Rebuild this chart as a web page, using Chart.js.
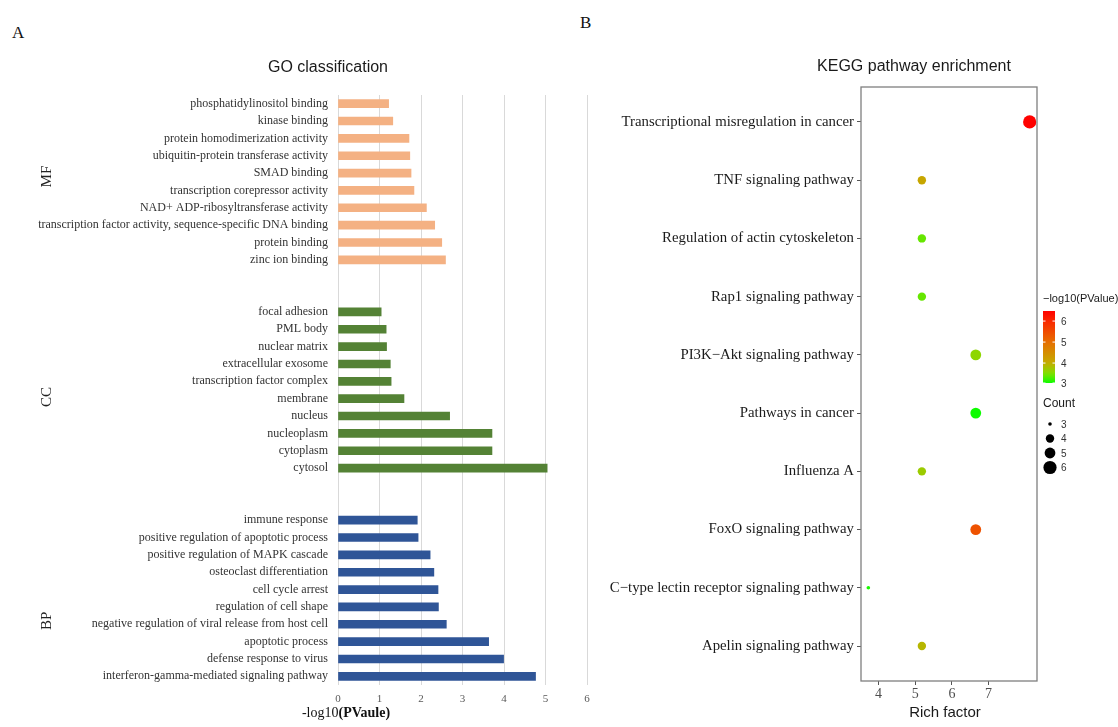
<!DOCTYPE html>
<html>
<head>
<meta charset="utf-8">
<script src="https://cdn.jsdelivr.net/npm/chart.js@4.4.1/dist/chart.umd.min.js"></script>
<style>
  body { margin: 0; background: #fff; width: 1118px; height: 727px; position: relative; overflow: hidden; }
  #goWrap { position: absolute; left: 0; top: 0; width: 600px; height: 727px; }
  #keggWrap { position: absolute; left: 590px; top: 0; width: 528px; height: 727px; }
  .panel { position: absolute; font-family: "Liberation Serif"; font-size: 17px; color: #111; }
</style>
</head>
<body>
<div class="panel" style="left:12px;top:23px">A</div>
<div class="panel" style="left:580px;top:13px">B</div>
<div id="goWrap"><canvas id="go"></canvas></div>
<div id="keggWrap"><canvas id="kegg"></canvas></div>
<script>
// ---- GO classification (-log10 PValue) ----
const mfTerms = ['phosphatidylinositol binding', 'kinase binding', 'protein homodimerization activity',
  'ubiquitin-protein transferase activity', 'SMAD binding', 'transcription corepressor activity',
  'NAD+ ADP-ribosyltransferase activity', 'transcription factor activity, sequence-specific DNA binding',
  'protein binding', 'zinc ion binding'];
const mfValues = [1.22, 1.32, 1.71, 1.73, 1.76, 1.83, 2.13, 2.33, 2.50, 2.59];

const ccTerms = ['focal adhesion', 'PML body', 'nuclear matrix', 'extracellular exosome',
  'transcription factor complex', 'membrane', 'nucleus', 'nucleoplasm', 'cytoplasm', 'cytosol'];
const ccValues = [1.04, 1.16, 1.17, 1.26, 1.28, 1.59, 2.69, 3.71, 3.71, 5.04];

const bpTerms = ['immune response', 'positive regulation of apoptotic process',
  'positive regulation of MAPK cascade', 'osteoclast differentiation', 'cell cycle arrest',
  'regulation of cell shape', 'negative regulation of viral release from host cell',
  'apoptotic process', 'defense response to virus', 'interferon-gamma-mediated signaling pathway'];
const bpValues = [1.91, 1.93, 2.22, 2.31, 2.41, 2.42, 2.61, 3.63, 3.99, 4.76];

const groupNames = ['MF', 'CC', 'BP'];
const goTicks = [0, 1, 2, 3, 4, 5, 6];

// ---- KEGG pathway enrichment ----
const pathways = ['Transcriptional misregulation in cancer', 'TNF signaling pathway',
  'Regulation of actin cytoskeleton', 'Rap1 signaling pathway', 'PI3K\u2212Akt signaling pathway',
  'Pathways in cancer', 'Influenza A', 'FoxO signaling pathway',
  'C\u2212type lectin receptor signaling pathway', 'Apelin signaling pathway'];
const richFactor = [8.12, 5.18, 5.18, 5.18, 6.65, 6.65, 5.18, 6.65, 3.72, 5.18];
const logP = [6.48, 4.1, 3.4, 3.4, 3.6, 3.05, 3.7, 5.4, 3.1, 3.9];
const geneCount = [6, 4, 4, 4, 5, 5, 4, 5, 3, 4];
const keggTicks = [4, 5, 6, 7];
const countLegend = [3, 4, 5, 6];
const colorLegend = [3, 4, 5, 6];

Chart.defaults.font.family = 'Liberation Sans';
Chart.defaults.animation = false;

// styling helpers
const countRadius = { 3: 1.8, 4: 4.2, 5: 5.4, 6: 6.6 };
const colorStops = [[3.0, [0, 255, 0]], [3.5, [128, 224, 0]], [4.0, [196, 172, 0]],
  [5.0, [230, 110, 0]], [6.0, [250, 40, 0]], [6.5, [255, 0, 0]]];
function pColor(v) {
  if (v <= colorStops[0][0]) return 'rgb(' + colorStops[0][1].join(',') + ')';
  for (let i = 1; i < colorStops.length; i++) {
    const [v1, c1] = colorStops[i];
    const [v0, c0] = colorStops[i - 1];
    if (v <= v1) {
      const t = (v - v0) / (v1 - v0);
      const c = c0.map((a, k) => Math.round(a + (c1[k] - a) * t));
      return 'rgb(' + c.join(',') + ')';
    }
  }
  return 'rgb(255,0,0)';
}

// GO bar chart: three blocks of ten separated by two empty rows
const goLabels = [...mfTerms, ' ', '  ', ...ccTerms, '   ', '    ', ...bpTerms];
function block(values, start) {
  const arr = new Array(goLabels.length).fill(null);
  values.forEach((v, i) => { arr[start + i] = v; });
  return arr;
}
const ccStart = mfTerms.length + 2;
const bpStart = ccStart + ccTerms.length + 2;

const goAnnotations = {
  id: 'goAnnotations',
  afterDraw(chart) {
    const ctx = chart.ctx;
    const y = chart.scales.y;
    ctx.save();
    ctx.fillStyle = '#1a1a1a';
    ctx.font = '16px "Liberation Sans"';
    ctx.textAlign = 'center';
    ctx.textBaseline = 'middle';
    ctx.fillText('GO classification', 328, 68);

    // group labels, rotated
    const groupPos = [4.2, ccStart + 4.9, bpStart + 5.8];
    ctx.font = '15px "Liberation Serif"';
    ctx.fillStyle = '#222';
    groupNames.forEach((g, i) => {
      ctx.save();
      ctx.translate(47, y.getPixelForValue(groupPos[i]));
      ctx.rotate(-Math.PI / 2);
      ctx.fillText(g, 0, 0);
      ctx.restore();
    });

    // axis title with bold part
    const a = '-log10', b = '(PVaule)';
    ctx.font = '14px "Liberation Serif"';
    const wa = ctx.measureText(a).width;
    ctx.font = 'bold 14px "Liberation Serif"';
    const wb = ctx.measureText(b).width;
    const x0 = 346 - (wa + wb) / 2;
    ctx.textAlign = 'left';
    ctx.fillStyle = '#111';
    ctx.font = '14px "Liberation Serif"';
    ctx.fillText(a, x0, 713);
    ctx.font = 'bold 14px "Liberation Serif"';
    ctx.fillText(b, x0 + wa, 713);
    ctx.restore();
  }
};

new Chart(document.getElementById('go'), {
  type: 'bar',
  data: {
    labels: goLabels,
    datasets: [
      { label: 'MF', data: block(mfValues, 0), backgroundColor: '#F4B183' },
      { label: 'CC', data: block(ccValues, ccStart), backgroundColor: '#548235' },
      { label: 'BP', data: block(bpValues, bpStart), backgroundColor: '#2F5597' }
    ]
  },
  options: {
    indexAxis: 'y',
    responsive: true,
    maintainAspectRatio: false,
    layout: { padding: { left: 0, right: 13, top: 95, bottom: 0 } },
    datasets: { bar: { grouped: false, barThickness: 8 } },
    plugins: { legend: { display: false }, tooltip: { enabled: false } },
    scales: {
      x: {
        type: 'linear', min: 0, max: 6,
        afterBuildTicks(s) { s.ticks = goTicks.map(v => ({ value: v })); },
        ticks: { font: { family: 'Liberation Serif', size: 11 }, color: '#595959', padding: 8, maxRotation: 0 },
        grid: { color: '#d9d9d9', drawTicks: false },
        border: { display: false },
        afterFit(s) { s.height = 42; }
      },
      y: {
        type: 'category',
        ticks: { autoSkip: false, font: { family: 'Liberation Serif', size: 12 }, color: '#333', padding: 10 },
        grid: { display: false, drawTicks: false },
        border: { display: false },
        afterFit(s) { s.width = 338; }
      }
    }
  },
  plugins: [goAnnotations]
});

// KEGG bubble chart
const keggAnnotations = {
  id: 'keggAnnotations',
  afterDraw(chart) {
    const ctx = chart.ctx;
    const area = chart.chartArea;
    ctx.save();
    ctx.strokeStyle = '#7f7f7f';
    ctx.lineWidth = 1.3;
    ctx.strokeRect(area.left, area.top, area.right - area.left, area.bottom - area.top);

    ctx.fillStyle = '#1a1a1a';
    ctx.font = '16px "Liberation Sans"';
    ctx.textAlign = 'center';
    ctx.textBaseline = 'middle';
    ctx.fillText('KEGG pathway enrichment', 324, 67);
    ctx.font = '15px "Liberation Sans"';
    ctx.fillText('Rich factor', (area.left + area.right) / 2 - 4, 713);

    // colour bar legend
    const lx = 453;
    const lo = Math.min(...logP), hi = Math.max(...logP);
    const barTop = 311, barBot = 383;
    const yOf = v => barBot - (v - lo) / (hi - lo) * (barBot - barTop);
    ctx.textAlign = 'left';
    ctx.font = '11px "Liberation Sans"';
    ctx.fillText('\u2212log10(PValue)', lx, 299);
    const grad = ctx.createLinearGradient(0, barBot, 0, barTop);
    for (let k = 0; k <= 20; k++) {
      const v = lo + (hi - lo) * k / 20;
      grad.addColorStop(k / 20, pColor(v));
    }
    ctx.fillStyle = grad;
    ctx.fillRect(lx, barTop, 12, barBot - barTop);
    ctx.strokeStyle = '#fff';
    ctx.lineWidth = 1;
    ctx.font = '10px "Liberation Sans"';
    colorLegend.forEach(v => {
      const yy = Math.min(Math.max(yOf(v), barTop), barBot);
      ctx.beginPath();
      ctx.moveTo(lx, yy); ctx.lineTo(lx + 2.5, yy);
      ctx.moveTo(lx + 9.5, yy); ctx.lineTo(lx + 12, yy);
      ctx.stroke();
      ctx.fillStyle = '#333';
      ctx.fillText(String(v), lx + 18, yy + 1);
    });

    // count legend
    ctx.fillStyle = '#1a1a1a';
    ctx.font = '12px "Liberation Sans"';
    ctx.fillText('Count', lx, 404);
    ctx.font = '10px "Liberation Sans"';
    countLegend.forEach((c, i) => {
      const yy = 424 + i * 14.5;
      ctx.fillStyle = '#000';
      ctx.beginPath();
      ctx.arc(lx + 7, yy, countRadius[c], 0, Math.PI * 2);
      ctx.fill();
      ctx.fillStyle = '#333';
      ctx.fillText(String(c), lx + 18, yy + 1);
    });
    ctx.restore();
  }
};

new Chart(document.getElementById('kegg'), {
  type: 'bubble',
  data: {
    datasets: [{
      data: pathways.map((p, i) => ({ x: richFactor[i], y: i, r: countRadius[geneCount[i]] })),
      backgroundColor: logP.map(pColor),
      borderWidth: 0,
      hoverRadius: 0
    }]
  },
  options: {
    responsive: true,
    maintainAspectRatio: false,
    layout: { padding: { left: 0, right: 81, top: 87, bottom: 0 } },
    plugins: { legend: { display: false }, tooltip: { enabled: false } },
    scales: {
      x: {
        type: 'linear', min: 3.52, max: 8.32,
        afterBuildTicks(s) { s.ticks = keggTicks.map(v => ({ value: v })); },
        ticks: { font: { family: 'Liberation Serif', size: 14 }, color: '#4d4d4d', padding: 1, maxRotation: 0, minRotation: 0 },
        grid: { drawOnChartArea: false, drawTicks: true, tickLength: 4, color: '#555' },
        border: { display: false },
        afterFit(s) { s.height = 46; }
      },
      y: {
        type: 'linear', min: -0.6, max: pathways.length - 0.4, reverse: true,
        afterBuildTicks(s) { s.ticks = pathways.map((p, i) => ({ value: i })); },
        ticks: {
          autoSkip: false,
          callback: v => pathways[v],
          font: { family: 'Liberation Serif', size: 14.8 }, color: '#1a1a1a', padding: 3
        },
        grid: { drawOnChartArea: false, drawTicks: true, tickLength: 4, color: '#555' },
        border: { display: false },
        afterFit(s) { s.width = 271; }
      }
    }
  },
  plugins: [keggAnnotations]
});
</script>
</body>
</html>
